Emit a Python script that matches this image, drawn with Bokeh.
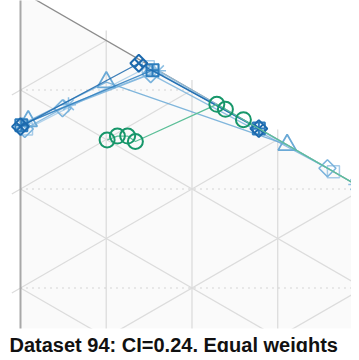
import math
from bokeh.plotting import figure
from bokeh.models import Range1d, Label, BoxAnnotation
from bokeh.embed import file_html
from bokeh.resources import INLINE

TITLE = "Dataset 94: CI=0.24, Equal weights"

# Ternary weights (a = top vertex, b = bottom vertex, c = right vertex)
s1_a = [0.863, 0.858, 0.722]
s1_b = [0.137, 0.004, 0.000]
s1_c = [0.000, 0.138, 0.278]

s2_a = [0.864, 0.843, 0.722]
s2_b = [0.135, 0.003, 0.000]
s2_c = [0.001, 0.154, 0.278]

s3_a = [0.864, 0.857, 0.689]
s3_b = [0.127, 0.042, 0.000]
s3_c = [0.009, 0.100, 0.311]

s4_a = [0.859, 0.857, 0.841, 0.642]
s4_b = [0.137, 0.094, 0.008, 0.000]
s4_c = [0.005, 0.049, 0.152, 0.358]

s5_a = [0.864, 0.857, 0.839, 0.609]
s5_b = [0.134, 0.087, 0.000, 0.000]
s5_c = [0.002, 0.056, 0.161, 0.391]

s6_a = [0.857, 0.849, 0.635]
s6_b = [0.136, 0.002, 0.000]
s6_c = [0.007, 0.149, 0.365]

g1_a = [0.799, 0.797, 0.791, 0.781, 0.771, 0.761, 0.740, 0.557]
g1_b = [0.100, 0.090, 0.084, 0.085, 0.000, 0.000, 0.000, 0.000]
g1_c = [0.101, 0.113, 0.125, 0.134, 0.229, 0.239, 0.260, 0.443]

grid_steps = [0.1, 0.2, 0.3, 0.4, 0.5, 0.6, 0.7, 0.8, 0.9]

H = math.sqrt(3) / 2
PX = 990.0          # pixels per unit side
X0, Y0 = 20.0, 980.5  # pixel position of bottom-left vertex


def to_xy(a_list, b_list, c_list):
    xs, ys = [], []
    for a, b, c in zip(a_list, b_list, c_list):
        tot = a + b + c
        a, c = a / tot, c / tot
        xs.append(c * H)
        ys.append(a + c / 2)
    return xs, ys


W, HT = 351, 352
p = figure(width=W, height=HT, output_backend="svg", toolbar_location=None,
           x_axis_type=None, y_axis_type=None,
           x_range=Range1d((0 - X0) / PX, (W - X0) / PX),
           y_range=Range1d((Y0 - HT) / PX, Y0 / PX),
           min_border_left=0, min_border_right=0, min_border_top=0,
           min_border_bottom=0)
p.grid.visible = False
p.outline_line_color = None
p.background_fill_color = "white"
p.border_fill_color = "white"

# triangle background
p.patch([0, 0, H], [0, 1, 0.5], fill_color="#fafafa", line_color=None)

ext = 0.0101
gxs, gys = [], []
for v in grid_steps:
    gxs.append([H * v, H * v]); gys.append([v / 2, 1 - v / 2 + ext])
    gxs.append([-ext * H, H * (1 - v)]); gys.append([v - ext * 0.5, v + (1 - v) / 2])
    gxs.append([0, H * (1 - v) + ext * H]); gys.append([1 - v, (1 - v) / 2 - ext * 0.5])
p.multi_line(gxs, gys, line_color="#dcdcdc", line_width=1.3)

dxs, dys = [], []
for v in grid_steps:
    xe = 2 * H * (1 - v) if v >= 0.5 else 2 * H * v
    dxs.append([0, xe]); dys.append([v, v])
p.multi_line(dxs, dys, line_color="#b0b0b0", line_width=1.2, line_dash="1 5")

# triangle edges
p.line([0, 0], [0, 1], line_color="#a8a8a8", line_width=2)
p.line([0, H], [1, 0.5], line_color="#8c8c8c", line_width=1.3)
p.line([0, H], [0, 0.5], line_color="#8c8c8c", line_width=1.3)

series = [
    (s6_a, s6_b, s6_c, "#a6cbe8", "square", 0.0, 12, 1.5),
    (s5_a, s5_b, s5_c, "#8dbfe3", "asterisk", 0.0, 15, 1.5),
    (s4_a, s4_b, s4_c, "#7ab3dc", "square", math.pi / 4, 12, 1.6),
    (s3_a, s3_b, s3_c, "#6aa9d6", "triangle", 0.0, 18, 1.8),
    (s2_a, s2_b, s2_c, "#2d7dbd", "square_cross", 0.0, 12, 2.0),
    (s1_a, s1_b, s1_c, "#1c69ad", "square_cross", math.pi / 4, 12, 2.0),
]
for a, b, c, col, mk, ang, sz, lw in series:
    xs, ys = to_xy(a, b, c)
    p.line(xs, ys, line_color=col, line_width=1.3, line_alpha=0.85)
    p.scatter(xs, ys, marker=mk, angle=ang, size=sz, line_color=col,
              fill_alpha=0, line_width=lw)

gx, gy = to_xy(g1_a, g1_b, g1_c)
p.line(gx, gy, line_color="#5cbf98", line_width=1.3)
p.scatter(gx, gy, marker="circle", size=15, line_color="#17976a",
          fill_alpha=0, line_width=2)

# plot-area bottom edge: blank strip for the title
FRAME_BOTTOM_PX = 328
p.add_layout(BoxAnnotation(top=(Y0 - FRAME_BOTTOM_PX) / PX, fill_color="white",
                           fill_alpha=1.0, line_color=None))

title = Label(x=9, y=8, x_units="screen", y_units="screen", text=TITLE,
              text_font="Liberation Sans", text_font_style="bold",
              text_font_size="20px", text_color="#111111",
              text_baseline="alphabetic")
p.add_layout(title)

open("out.html", "w").write(file_html(p, INLINE))
